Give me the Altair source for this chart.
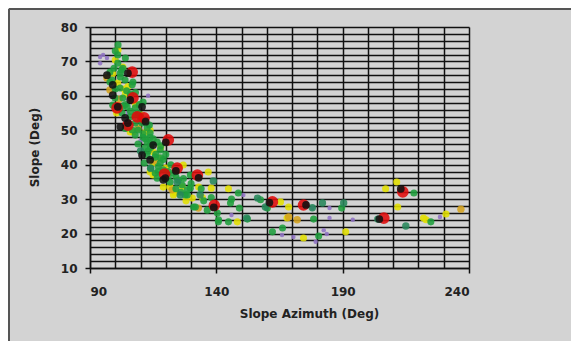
import altair as alt
import pandas as pd

# ---- data (Slope Azimuth, Slope) ----
purple_x = [94, 95.2, 96.7, 94, 146, 150.7, 166, 170.5, 178, 184.8, 184.8, 182.5, 183.7, 179.3, 194, 228.5, 105, 110, 118, 125, 113]
purple_y = [71.3, 71.9, 71, 69.5, 25.4, 31.2, 19.6, 19, 27.4, 27.4, 24.5, 21, 19.9, 17.6, 24, 24.8, 55, 47, 39, 36, 60]

yellow_x = [101.1, 100, 103, 101, 105, 105.9, 107, 113.8, 115, 115, 113.8, 115, 126.9, 136.8, 121.7, 123.7, 126.5, 130.5,
            123, 138, 144.8, 148.3, 165.4, 168, 168.6, 174.5, 191.2, 207, 211.4, 211.8, 222, 223, 230.9, 133, 104, 110, 118,
            99, 103.5, 108, 112, 117, 120, 119, 128, 134.5, 100.5]
yellow_y = [73.3, 70.4, 68.4, 63.7, 62.7, 49.5, 49.5, 50.1, 43.7, 40.5, 37.9, 37, 39.9, 37.9, 33.5, 31.8, 33.5, 30.3,
            31.2, 33.2, 33, 23.4, 29.2, 24.5, 27.7, 18.7, 20.5, 33, 35, 27.7, 24.5, 24, 25.7, 33.5, 60.5, 54.5, 45,
            66.5, 62, 57.5, 49.5, 42, 39, 33.5, 29.5, 30.5, 55]

orange_x = [96.7, 97.9, 122.5, 132.9, 168.6, 172, 236.8, 101.5, 109, 116]
orange_y = [65.2, 61.7, 32.7, 27.4, 24.8, 24, 27.1, 59, 50.5, 41]

green_x = [101.1, 101, 101, 102, 97.9, 98.7, 103.9, 107, 97.9, 101.9, 106.7, 99.9, 103, 111, 99, 104.7, 107.9, 102.7,
           105.9, 107.9, 110.6, 106.7, 109, 112.6, 107.9, 113.8, 111, 113.8, 112.6, 116.6, 111.8, 117.8, 112.6, 115.8,
           117.8, 119, 116.6, 115.8, 129.7, 121.7, 126.5, 128.5, 129.7, 131.7, 136.4, 140.4, 140.8, 131, 127.7, 128.5,
           104, 103, 100, 108, 109, 104, 114, 118, 122, 124, 120, 110, 106, 102.5, 112, 117, 121,
           100, 99.5, 102, 104.5, 106, 109.5, 103, 106, 108, 110, 113.5, 104, 111, 115, 114, 118, 109, 113, 116, 119,
           111.5, 114, 117, 121, 123, 125, 127, 124, 126, 130, 134, 135, 138,
           148.7, 149.1, 145.6, 140.9, 144.8, 152.3, 160.2, 162.2, 166.2, 178.5, 180.5, 189.6, 218.2, 224.9, 157.5, 146]
green_y = [74.8, 71.9, 69.5, 66.6, 66.9, 64.6, 64.6, 64, 64, 62.3, 63.2, 59.4, 59.4, 58.2, 57.3, 56.8, 56.5, 55,
           53.9, 52.1, 52.1, 50.1, 50.1, 50.7, 48.6, 48, 48, 49.2, 46.6, 46.6, 44.9, 44.3, 42.8, 42.2,
           40.5, 38.5, 36.1, 37.6, 37, 35, 34.1, 31.2, 33.2, 27.7, 26.8, 26, 23.4, 27.7, 31.2, 32.7,
           71, 68, 62, 61, 55, 57.5, 45, 42, 40, 36.5, 43, 54, 60.5, 67.5, 47.5, 39.5, 38,
           73, 68, 65.5, 61.5, 60, 57.5, 57, 55.5, 54.5, 53, 51.5, 50.5, 49, 47.5, 46, 45.5, 46, 44, 43, 41.5,
           40.5, 39, 38, 36.5, 37.5, 35.5, 36, 33, 32, 34.5, 33, 29.5, 30.5,
           31.8, 27.4, 28.9, 24, 23.4, 24.2, 27.4, 20.5, 21.6, 24.2, 19.3, 27.4, 31.8, 23.4, 29.8, 30]

dkgreen_x = [156.3, 159.4, 152, 182, 190.4, 203.9, 215, 138.8, 124.5, 133.6, 125.7, 178, 110, 114]
dkgreen_y = [30.3, 27.7, 24.5, 28.9, 28.9, 24.2, 22.2, 35.3, 35, 31.2, 31.2, 27.5, 44, 39]

red_x = [106.7, 107, 100.7, 105, 108.7, 111.4, 121, 119.5, 124.5, 132.5, 139.2, 162.2, 174.5, 206.3, 213.8]
red_y = [66.9, 59.4, 56.5, 51.5, 53.9, 53.6, 47.2, 37.3, 39, 37, 28.2, 29.2, 28.3, 24.5, 32.1]

black_x = [105, 96.7, 99, 99, 105.9, 101, 110.6, 103.9, 105, 112, 115, 110.6, 113.8, 119.8, 119, 124, 133, 139,
           161, 175.5, 204.5, 213, 102, 120]
black_y = [66.6, 66, 63.2, 60.2, 58.8, 56.8, 56.8, 53.6, 52.1, 52.5, 45.7, 42.8, 41.4, 36.1, 35.6, 38.2, 36.2, 27.6,
           29, 28.3, 24.2, 33, 51, 46.5]

series = [
    ("Purple", purple_x, purple_y, "#8f72c4", 20),
    ("Yellow", yellow_x, yellow_y, "#e3df00", 50),
    ("Orange", orange_x, orange_y, "#d4a21e", 55),
    ("Green", green_x, green_y, "#1f9e3c", 50),
    ("DarkGreen", dkgreen_x, dkgreen_y, "#27865a", 55),
    ("Red", red_x, red_y, "#e00a0a", 135),
    ("Black", black_x, black_y, "#111111", 60),
]

W, H = 379, 241
PAD_L, PAD_T = 82, 19
TOT_W, TOT_H = 563, 333

x_ticks = list(range(90, 241, 10))
y_ticks = list(range(10, 81, 2))
font = "DejaVu Sans"

x_enc = alt.X("az:Q", scale=alt.Scale(domain=[90, 240], nice=False, zero=False),
              axis=alt.Axis(values=x_ticks, title="Slope Azimuth (Deg)",
                            labelExpr="(datum.value - 90) % 50 == 0 ? datum.label : ''",
                            tickOpacity={"condition": {"test": "(datum.value - 90) % 50 == 0", "value": 1}, "value": 0},
                            tickSize=5, labelPadding=13,
                            titleX=219, titleY=45, titleBaseline="middle", titleAlign="center"))
y_enc = alt.Y("slope:Q", scale=alt.Scale(domain=[10, 80], nice=False, zero=False),
              axis=alt.Axis(values=y_ticks, title="Slope (Deg)",
                            labelExpr="datum.value % 10 == 0 ? datum.label : ''",
                            tickOpacity={"condition": {"test": "datum.value % 10 == 0", "value": 1}, "value": 0},
                            tickSize=5, labelPadding=8,
                            titleX=-56, titleY=120, titleBaseline="middle", titleAlign="center", titleAngle=270))

layers = []
for name, xs, ys, col, sz in series:
    d = pd.DataFrame({"az": xs, "slope": ys})
    layers.append(alt.Chart(d).mark_circle(opacity=0.88, color=col, size=sz).encode(x=x_enc, y=y_enc))

frame = alt.Data(values=[{"k": 1}])
left_border = alt.Chart(frame).mark_rule(color="#555555", strokeWidth=2).encode(
    x=alt.value(-81), y=alt.value(-18), y2=alt.value(TOT_H - PAD_T))
top_border = alt.Chart(frame).mark_rule(color="#555555", strokeWidth=2).encode(
    x=alt.value(-81), x2=alt.value(TOT_W - PAD_L), y=alt.value(-18))

chart = alt.layer(*layers, left_border, top_border).properties(
    width=W, height=H,
    autosize=alt.AutoSizeParams(type="none"),
    padding={"left": PAD_L, "top": PAD_T, "right": TOT_W - PAD_L - W, "bottom": TOT_H - PAD_T - H},
    background="#d3d3d3",
).configure_view(stroke=None).configure_axis(
    grid=True, gridColor="#111111", gridWidth=1.5, gridOpacity=1,
    domainColor="#111111", domainWidth=1.5, tickColor="#111111", tickWidth=1.5,
    labelFont=font, labelFontSize=12, labelFontWeight="bold", labelColor="#222222",
    titleFont=font, titleFontSize=12, titleFontWeight="bold", titleColor="#222222",
)

chart.save("out.html", embed_options={"renderer": "svg", "actions": False})
